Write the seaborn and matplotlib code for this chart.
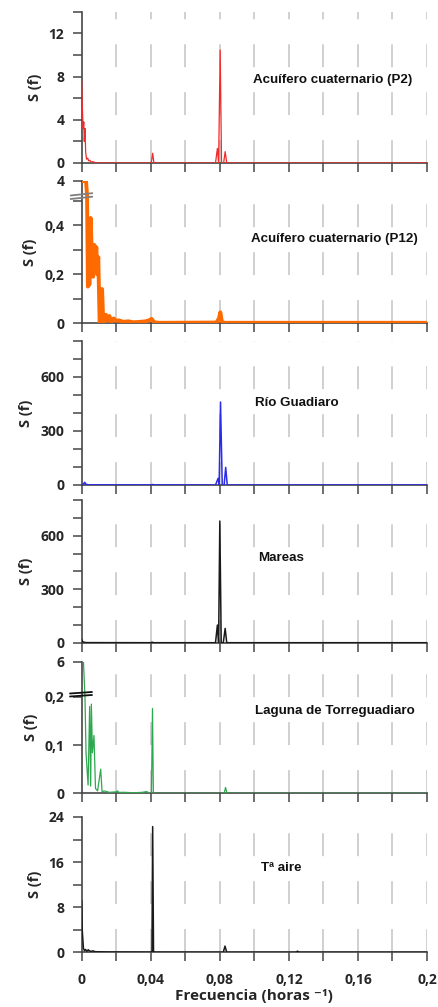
import numpy as np
import seaborn as sns
import matplotlib.pyplot as plt

sns.set_style("ticks")
plt.rcParams['font.family'] = ['Open Sans', 'DejaVu Sans']
plt.rcParams['lines.scale_dashes'] = False

# frequencies (1/h) and spectral density
f_p2 = [0, 0.0003, 0.0008, 0.0012, 0.0015, 0.0019, 0.0023, 0.0028, 0.0035, 0.0040,
        0.0047, 0.0055, 0.0065, 0.0080, 0.0100, 0.0395, 0.0404, 0.0411, 0.0418, 0.0428,
        0.0775, 0.0786, 0.0793, 0.0802, 0.0810, 0.0822, 0.0831, 0.0840, 0.2]
s_p2 = [7.6, 5.5, 3.2, 3.8, 2.0, 3.2, 1.0, 0.35, 0.45, 0.2,
        0.25, 0.1, 0.12, 0.03, 0.0, 0.0, 0.1, 0.9, 0.05, 0.0,
        0.0, 1.35, 0.0, 10.45, 0.0, 0.0, 1.05, 0.0, 0.0]

f_p12 = [0, 0.0025, 0.0031, 0.0036, 0.0046, 0.0052, 0.0060, 0.0066, 0.0073, 0.0079,
         0.0085, 0.0090, 0.0096, 0.0104, 0.0110, 0.0118, 0.0125, 0.0132, 0.0140, 0.0148,
         0.0160, 0.0172, 0.0185, 0.0200, 0.0215, 0.0240, 0.0270, 0.0300, 0.0340, 0.0370,
         0.0390, 0.0405, 0.0420, 0.0450, 0.0780, 0.0795, 0.0803, 0.0812, 0.0830, 0.2]
s_p12 = [4.0, 4.0, 0.6, 0.15, 0.16, 0.43, 0.25, 0.19, 0.32, 0.28,
         0.31, 0.2, 0.27, 0.0, 0.04, 0.14, 0.0, 0.02, 0.035, 0.01,
         0.03, 0.005, 0.02, 0.01, 0.012, 0.006, 0.008, 0.004, 0.006, 0.008,
         0.012, 0.018, 0.004, 0.002, 0.003, 0.02, 0.045, 0.005, 0.002, 0.002]

f_rio = [0, 0.0010, 0.0017, 0.0025, 0.0040, 0.0400, 0.0410, 0.0420, 0.0775, 0.0790,
         0.0796, 0.0804, 0.0814, 0.0825, 0.0834, 0.0843, 0.2]
s_rio = [2, 5, 15, 4, 1, 0.5, 3, 0.5, 0, 37,
         0, 461, 0, 0, 98, 0, 0]

f_mar = [0, 0.0005, 0.0015, 0.0030, 0.0400, 0.0408, 0.0416, 0.0775, 0.0786, 0.0793,
         0.0800, 0.0808, 0.0820, 0.0831, 0.0840, 0.2]
s_mar = [19, 6, 2, 0.5, 0, 3, 0, 0, 99, 0,
         682, 0, 0, 80, 0, 0]

f_lag = [0, 0.0010, 0.0019, 0.0025, 0.0031, 0.0037, 0.0046, 0.0052, 0.0056, 0.0062,
         0.0071, 0.0080, 0.0092, 0.0110, 0.0118, 0.0130, 0.0160, 0.0200, 0.0207, 0.0215,
         0.0250, 0.0300, 0.0350, 0.0377, 0.0395, 0.0404, 0.0410, 0.0415, 0.0430, 0.0800,
         0.0825, 0.0833, 0.0842, 0.2]
s_lag = [6, 6, 0.2, 0.084, 0.05, 0.017, 0.18, 0.015, 0.185, 0.084,
         0.12, 0.01, 0.005, 0.05, 0.003, 0.005, 0.002, 0.003, 0.005, 0.002,
         0.002, 0.001, 0.002, 0.0035, 0.0, 0.0, 0.176, 0.0, 0.0, 0.0,
         0.0, 0.012, 0.0, 0.0]

f_air = [0, 0.0003, 0.0010, 0.0016, 0.0022, 0.0030, 0.0038, 0.0050, 0.0065, 0.0080,
         0.0100, 0.0150, 0.0200, 0.0400, 0.0407, 0.0411, 0.0416, 0.0425, 0.0820, 0.0830,
         0.0840, 0.1240, 0.1250, 0.1260, 0.2]
s_air = [9.2, 4, 0.7, 0.3, 0.5, 0.2, 0.45, 0.15, 0.25, 0.1,
         0.1, 0.05, 0.05, 0.02, 0.1, 22.3, 0.1, 0.02, 0, 1.1,
         0, 0, 0.2, 0, 0]

titles = ['Acuífero cuaternario (P2)', 'Acuífero cuaternario (P12)', 'Río Guadiaro',
          'Mareas', 'Laguna de Torreguadiaro', 'Tª aire']
xticks = [0, 0.04, 0.08, 0.12, 0.16, 0.2]
xticklabels = ['0', '0,04', '0,08', '0,12', '0,16', '0,2']


def broken(b, k):
    def fwd(y):
        y = np.asarray(y, float)
        return np.where(y <= b, y, b + (y - b) * k)

    def inv(y):
        y = np.asarray(y, float)
        return np.where(y <= b, y, b + (y - b) / k)
    return fwd, inv


W, H = 438, 1007


def px(x, y):
    return x / W, 1 - y / H


panels = [
    dict(f=f_p2, s=s_p2, c='#f22a2a', lw=0.9, top=14, yt=[0, 4, 8, 12], yl=['0', '4', '8', '12'],
         ym=[2, 6, 10, 14], box=(11.7, 163.0), tpos=(253, 80)),
    dict(f=f_p12, s=s_p12, c='#ff6a00', lw=2.8, top=4, yt=[0, 0.2, 0.4, 4], yl=['0', '0,2', '0,4', '4'],
         ym=[0.1, 0.3, 0.5], box=(181.0, 323.3), tpos=(251, 239), brk=(0.521, 0.01725)),
    dict(f=f_rio, s=s_rio, c='#2b2bea', lw=1.1, top=800, yt=[0, 300, 600], yl=['0', '300', '600'],
         ym=[100, 200, 400, 500, 700, 800], box=(341.0, 485.0), tpos=(255, 403)),
    dict(f=f_mar, s=s_mar, c='#1a1a1a', lw=1.1, top=800, yt=[0, 300, 600], yl=['0', '300', '600'],
         ym=[100, 200, 400, 500, 700, 800], box=(500.0, 642.7), tpos=(258, 558)),
    dict(f=f_lag, s=s_lag, c='#2ea84f', lw=0.9, top=6, yt=[0, 0.1, 0.2, 6], yl=['0', '0,1', '0,2', '6'],
         ym=[], box=(661.5, 793.3), tpos=(255, 711), brk=(0.206, 0.01164)),
    dict(f=f_air, s=s_air, c='#1a1a1a', lw=1.1, top=24, yt=[0, 8, 16, 24], yl=['0', '8', '16', '24'],
         ym=[4, 12, 20], box=(817.0, 952.3), tpos=(261, 868)),
]

fig = plt.figure(figsize=(W / 100, H / 100), dpi=100)
axc = '#454545'
x0, x1 = 81.7, 427.0

for i, p in enumerate(panels):
    t, b = p['box']
    ax = fig.add_axes([x0 / W, 1 - b / H, (x1 - x0) / W, (b - t) / H])
    if 'brk' in p:
        ax.set_yscale('function', functions=broken(*p['brk']))
    for xv in np.arange(0.02, 0.2001, 0.02):
        ax.axvline(xv, color='#c4c4c4', lw=1.1, ls=(0, (16.5, 18)), zorder=1)
    sns.lineplot(x=p['f'], y=p['s'], ax=ax, color=p['c'], lw=p['lw'], estimator=None, zorder=3)
    ax.set_xlim(0, 0.2)
    ax.set_ylim(0, p['top'])
    ax.set_yticks(p['yt'], p['yl'])
    ax.set_yticks(p['ym'], minor=True)
    ax.set_xticks(xticks)
    ax.set_xticks([0.02, 0.06, 0.1, 0.14, 0.18], minor=True)
    if i == len(panels) - 1:
        ax.set_xticklabels(xticklabels)
        ax.set_xlabel('Frecuencia (horas ⁻¹)', fontsize=11, fontweight='bold', labelpad=1,
                      family=['Open Sans', 'DejaVu Sans'])
    else:
        ax.set_xticklabels([])
    ax.tick_params(which='both', length=6.5, width=1.1, color=axc, labelsize=10, pad=6)
    ax.tick_params(axis='x', which='both', pad=8.5)
    for lab in ax.get_xticklabels() + ax.get_yticklabels():
        lab.set_fontweight('bold')
    ax.set_ylabel('S (f)', fontsize=10.5, fontweight='bold', labelpad=5)
    sns.despine(ax=ax)
    for sp in ['left', 'bottom']:
        ax.spines[sp].set_color(axc)
        ax.spines[sp].set_linewidth(1.2)
    ax.spines['bottom'].set_zorder(2)
    ax.set_facecolor('none')
    fig.text(*px(*p['tpos']), titles[i], family='Liberation Sans', fontweight='bold',
             fontsize=9.6, ha='left', va='center', color='#111111')

# axis-break marks
for (xa, ya, xb, yb), col in [((70.7, 195.5, 92.3, 193.2), '#808080'), ((70.7, 199.0, 92.3, 196.7), '#808080'),
                              ((70.0, 693.5, 92.0, 692.0), '#111111'), ((70.0, 696.5, 92.0, 695.0), '#111111')]:
    (fx0, fy0), (fx1, fy1) = px(xa, ya), px(xb, yb)
    fig.add_artist(plt.Line2D([fx0, fx1], [fy0, fy1], transform=fig.transFigure, color=col, lw=1.3))

fig.savefig('out.png', dpi=100)
